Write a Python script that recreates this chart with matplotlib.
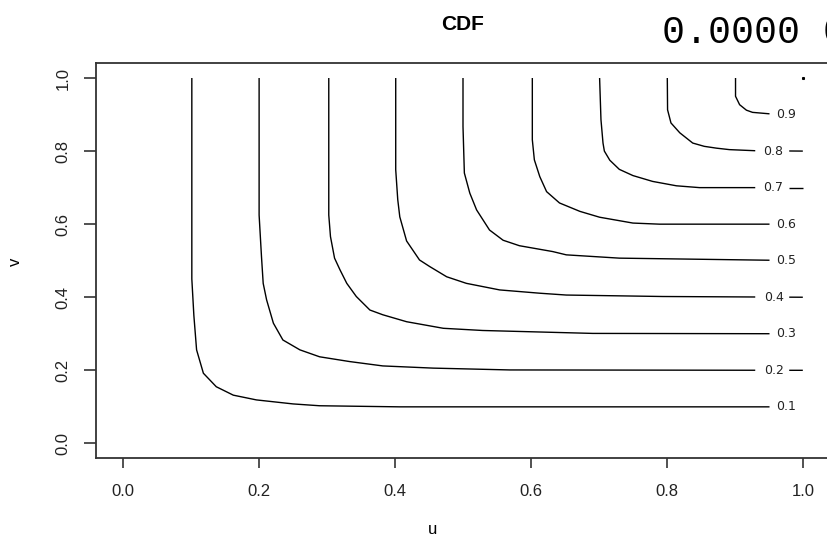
import matplotlib
matplotlib.use("Agg")
import matplotlib.pyplot as plt
import numpy as np

# Contour levels of the copula CDF C(u, v)
levels = [0.1, 0.2, 0.3, 0.4, 0.5, 0.6, 0.7, 0.8, 0.9]

# Traced (u, v) points along each level curve
u_01 = [0.101, 0.101, 0.104, 0.108, 0.118, 0.137, 0.162, 0.196, 0.250, 0.289, 0.407, 1.0]
v_01 = [1.000, 0.450, 0.350, 0.256, 0.192, 0.155, 0.132, 0.119, 0.108, 0.103, 0.100, 0.100]

u_02 = [0.200, 0.200, 0.2035, 0.206, 0.211, 0.221, 0.235, 0.260, 0.289, 0.333, 0.382, 0.456, 0.569, 1.0]
v_02 = [1.000, 0.625, 0.511, 0.438, 0.393, 0.329, 0.283, 0.256, 0.237, 0.224, 0.212, 0.206, 0.201, 0.200]

u_03 = [0.3025, 0.3025, 0.305, 0.311, 0.319, 0.329, 0.343, 0.363, 0.382, 0.417, 0.471, 0.529, 0.691, 1.0]
v_03 = [1.000, 0.625, 0.566, 0.507, 0.475, 0.438, 0.402, 0.365, 0.352, 0.333, 0.315, 0.309, 0.301, 0.300]

u_04 = [0.401, 0.401, 0.404, 0.407, 0.417, 0.436, 0.451, 0.476, 0.505, 0.554, 0.613, 0.652, 0.794, 1.0]
v_04 = [1.000, 0.749, 0.667, 0.620, 0.554, 0.502, 0.484, 0.456, 0.438, 0.420, 0.411, 0.406, 0.402, 0.400]

u_05 = [0.500, 0.500, 0.502, 0.510, 0.520, 0.539, 0.559, 0.583, 0.632, 0.652, 0.730, 1.0]
v_05 = [1.000, 0.867, 0.740, 0.685, 0.639, 0.584, 0.556, 0.541, 0.525, 0.516, 0.507, 0.500]

u_06 = [0.602, 0.602, 0.605, 0.613, 0.623, 0.642, 0.672, 0.701, 0.750, 0.789, 1.0]
v_06 = [1.000, 0.831, 0.776, 0.730, 0.689, 0.658, 0.635, 0.619, 0.603, 0.600, 0.600]

u_07 = [0.701, 0.703, 0.706, 0.708, 0.716, 0.730, 0.750, 0.779, 0.814, 0.848, 1.0]
v_07 = [1.000, 0.886, 0.822, 0.800, 0.775, 0.750, 0.733, 0.717, 0.705, 0.700, 0.700]

u_08 = [0.8006, 0.801, 0.806, 0.819, 0.838, 0.855, 0.873, 0.892, 0.930, 1.0]
v_08 = [1.000, 0.913, 0.877, 0.850, 0.822, 0.813, 0.808, 0.804, 0.801, 0.800]

u_09 = [0.901, 0.901, 0.907, 0.917, 0.926, 0.951, 1.0]
v_09 = [1.000, 0.950, 0.927, 0.912, 0.906, 0.902, 0.900]

curves_u = [u_01, u_02, u_03, u_04, u_05, u_06, u_07, u_08, u_09]
curves_v = [v_01, v_02, v_03, v_04, v_05, v_06, v_07, v_08, v_09]

# Label placement: label centre and the break left in the line around it
label_u = [0.976, 0.957, 0.976, 0.957, 0.976, 0.976, 0.957, 0.957, 0.976]
gap_lo = [0.951, 0.930, 0.951, 0.930, 0.951, 0.951, 0.930, 0.930, 0.951]
gap_hi = [1.01, 0.980, 1.01, 0.980, 1.01, 1.01, 0.980, 0.980, 1.01]

ticks = [0.0, 0.2, 0.4, 0.6, 0.8, 1.0]
tick_labels = ["0.0", "0.2", "0.4", "0.6", "0.8", "1.0"]

W, H = 827, 538
fig = plt.figure(figsize=(W / 100, H / 100), dpi=100)
ax = fig.add_axes([96 / W, (H - 458) / H, (830 - 96) / W, (458 - 63.4) / H])

sans = "Liberation Sans"
line_kw = dict(color="black", lw=1.0, solid_joinstyle="round", solid_capstyle="butt")
for cu, cv, g0, g1 in zip(curves_u, curves_v, gap_lo, gap_hi):
    cu = np.asarray(cu)
    cv = np.asarray(cv)
    left = cu < g0
    ax.plot(np.append(cu[left], g0), np.append(cv[left], np.interp(g0, cu[1:], cv[1:])),
            **line_kw)
    if g1 < cu[-1]:
        right = cu > g1
        ax.plot(np.insert(cu[right], 0, g1),
                np.insert(cv[right], 0, np.interp(g1, cu[1:], cv[1:])), **line_kw)

# degenerate top level at the corner
ax.plot([1.0], [1.0], marker="s", ms=1.2, color="black", lw=0)

for lev, lu in zip(levels, label_u):
    ax.text(lu, lev, f"{lev:.1f}", fontsize=9, family="DejaVu Sans",
            ha="center", va="center", color="#222222", zorder=5)

ax.set_xlim(-0.04, 1.04)
ax.set_ylim(-0.04, 1.04)
ax.set_xticks(ticks)
ax.set_xticklabels(tick_labels, fontsize=12, family=sans)
ax.set_yticks(ticks)
ax.set_yticklabels(tick_labels, fontsize=12, family=sans, rotation=90, va="center")
ax.tick_params(axis="x", length=7.5, width=1.2, pad=11, colors="#333333", labelcolor="#222222")
ax.tick_params(axis="y", length=8.5, width=1.2, pad=10, colors="#333333", labelcolor="#222222")
for s in ax.spines.values():
    s.set_linewidth(1.3)
    s.set_color("#333333")

fig.text(463 / W, 1 - 24.5 / H, "CDF", fontsize=15, fontweight="bold", family=sans,
         ha="center", va="center")
fig.text(433 / W, 1 - 530 / H, "u", fontsize=12, family=sans, ha="center", va="center")
fig.text(15 / W, 1 - 262 / H, "v", fontsize=12, family=sans, ha="center", va="center",
         rotation=90)
fig.text(662 / W, 1 - 43 / H, "0.0000 0", fontsize=27.5, family="Liberation Mono",
         ha="left", va="baseline", color="black")

fig.savefig("out.png", dpi=100)
